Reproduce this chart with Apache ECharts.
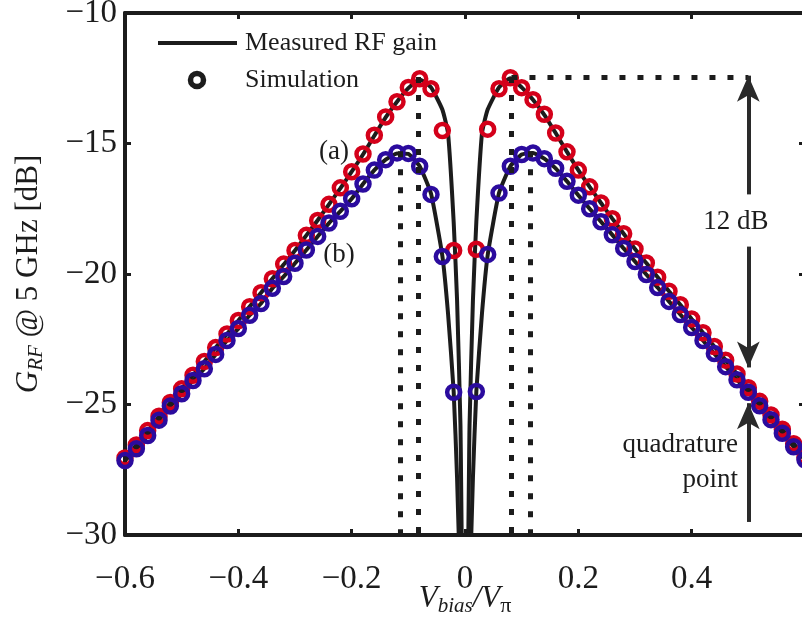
<!DOCTYPE html>
<html>
<head>
<meta charset="utf-8">
<script src="https://cdn.jsdelivr.net/npm/echarts@6/dist/echarts.min.js"></script>
<style>
  html, body { margin: 0; padding: 0; background: #ffffff; }
  #chart { width: 802px; height: 624px; }
</style>
</head>
<body>
<div id="chart"></div>
<script>
// Normalised bias points of the simulated curves (V_bias / V_pi)
const simBias = [
  -0.60, -0.58, -0.56, -0.54, -0.52, -0.50, -0.48, -0.46, -0.44, -0.42,
  -0.40, -0.38, -0.36, -0.34, -0.32, -0.30, -0.28, -0.26, -0.24, -0.22,
  -0.20, -0.18, -0.16, -0.14, -0.12, -0.10, -0.08, -0.06, -0.04, -0.02,
   0.02,  0.04,  0.06,  0.08,  0.10,  0.12,  0.14,  0.16,  0.18,  0.20,
   0.22,  0.24,  0.26,  0.28,  0.30,  0.32,  0.34,  0.36,  0.38,  0.40,
   0.42,  0.44,  0.46,  0.48,  0.50,  0.52,  0.54,  0.56,  0.58,  0.60
];
// Simulated RF gain [dB], case (a)
const simGainA = [
  -27.05, -26.55, -26.00, -25.45, -24.92, -24.40, -23.88, -23.35, -22.82, -22.30,
  -21.78, -21.25, -20.72, -20.18, -19.62, -19.10, -18.52, -17.95, -17.33, -16.70,
  -16.08, -15.40, -14.68, -13.98, -13.40, -12.85, -12.52, -12.90, -14.50, -19.10,
  -19.05, -14.45, -12.90, -12.48, -12.86, -13.32, -13.88, -14.60, -15.32, -16.02,
  -16.66, -17.28, -17.88, -18.46, -19.04, -19.58, -20.12, -20.66, -21.18, -21.72,
  -22.25, -22.78, -23.30, -23.83, -24.36, -24.88, -25.40, -25.95, -26.50, -27.02
];
// Simulated RF gain [dB], case (b)
const simGainB = [
  -27.15, -26.70, -26.19, -25.60, -25.06, -24.59, -24.08, -23.63, -23.08, -22.55,
  -22.09, -21.58, -21.13, -20.55, -20.10, -19.59, -19.08, -18.56, -18.05, -17.60,
  -17.12, -16.55, -16.02, -15.62, -15.36, -15.38, -15.87, -16.95, -19.33, -24.53,
  -24.50, -19.25, -16.90, -15.87, -15.42, -15.36, -15.58, -15.95, -16.45, -16.98,
  -17.50, -18.00, -18.50, -19.02, -19.52, -20.02, -20.52, -21.05, -21.55, -22.05,
  -22.55, -23.05, -23.55, -24.05, -24.53, -25.05, -25.58, -26.10, -26.62, -27.12
];

// Measured bias points (denser around the null)
const measBias = [
  -0.60, -0.58, -0.56, -0.54, -0.52, -0.50, -0.48, -0.46, -0.44, -0.42,
  -0.40, -0.38, -0.36, -0.34, -0.32, -0.30, -0.28, -0.26, -0.24, -0.22,
  -0.20, -0.18, -0.16, -0.14, -0.12, -0.10, -0.08, -0.06, -0.04, -0.03,
  -0.02, -0.014, -0.008, -0.003, 0.003, 0.008, 0.014, 0.02, 0.03, 0.04,
   0.06,  0.08,  0.10,  0.12,  0.14,  0.16,  0.18,  0.20,  0.22,  0.24,
   0.26,  0.28,  0.30,  0.32,  0.34,  0.36,  0.38,  0.40,  0.42,  0.44,
   0.46,  0.48,  0.50,  0.52,  0.54,  0.56,  0.58,  0.60
];
// Measured RF gain [dB], case (a)
const measGainA = [
  -27.08, -26.55, -26.02, -25.46, -24.93, -24.40, -23.88, -23.35, -22.82, -22.30,
  -21.78, -21.25, -20.72, -20.18, -19.64, -19.10, -18.52, -17.94, -17.33, -16.72,
  -16.08, -15.42, -14.70, -14.00, -13.40, -12.88, -12.55, -12.85, -13.70, -14.60,
  -18.00, -21.00, -25.80, -34.00, -34.00, -25.80, -21.00, -18.00, -14.60, -13.70,
  -12.85, -12.50, -12.85, -13.32, -13.90, -14.60, -15.32, -16.02, -16.66, -17.28,
  -17.88, -18.46, -19.04, -19.58, -20.12, -20.66, -21.18, -21.72, -22.25, -22.78,
  -23.30, -23.83, -24.36, -24.88, -25.40, -25.95, -26.50, -27.02
];
// Measured RF gain [dB], case (b)
const measGainB = [
  -27.15, -26.70, -26.19, -25.60, -25.06, -24.59, -24.08, -23.63, -23.08, -22.55,
  -22.09, -21.58, -21.13, -20.55, -20.10, -19.59, -19.08, -18.56, -18.05, -17.60,
  -17.12, -16.55, -16.02, -15.62, -15.38, -15.40, -15.87, -16.92, -19.30, -21.50,
  -24.50, -27.80, -32.50, -40.00, -40.00, -32.50, -27.80, -24.50, -21.50, -19.28,
  -16.90, -15.87, -15.42, -15.36, -15.58, -15.95, -16.45, -16.98, -17.50, -18.00,
  -18.50, -19.02, -19.52, -20.02, -20.52, -21.05, -21.55, -22.05, -22.55, -23.05,
  -23.55, -24.05, -24.53, -25.05, -25.58, -26.10, -26.62, -27.12
];

// Axis ticks
const xTicks = [-0.6, -0.4, -0.2, 0, 0.2, 0.4, 0.6];
const yTicks = [-30, -25, -20, -15, -10];

// Bias of the gain maxima for (a) and (b), gain maxima and quadrature point
const peakBiasA = 0.082;
const peakBiasB = 0.115;
const peakGainA = -12.45;
const peakGainB = -15.3;
const quadBias = 0.5;
const quadGain = -24.53;

const FONT = 'Liberation Serif, Times New Roman, serif';
const INK = '#1c1c1c';
const RED = '#d4001a';
const BLUE = '#2b0b9e';

const zip = (xs, ys) => xs.map((x, i) => [x, ys[i]]);
const minus = (s) => String(s).replace('-', '\u2212');

const chart = echarts.init(document.getElementById('chart'), null, { renderer: 'canvas' });

const axisCommon = {
  type: 'value',
  axisLine: { show: true, onZero: false, lineStyle: { color: INK, width: 4 } },
  axisTick: { show: true, inside: true, length: 6, lineStyle: { color: INK, width: 3 } },
  splitLine: { show: false }
};

const dotted = { color: INK, width: 5, type: [6, 12], cap: 'butt' };
const arrowLine = { color: '#2a2a2a', width: 4, type: 'solid' };

const ringSeries = (name, data, color, z) => ({
  name, type: 'scatter', data, z,
  symbol: 'circle', symbolSize: 13,
  itemStyle: { color: 'rgba(0,0,0,0)', borderColor: color, borderWidth: 4.5, opacity: 1 },
  emphasis: { disabled: true },
  silent: true
});

const option = {
  backgroundColor: '#ffffff',
  animation: false,
  grid: { left: 125, top: 13, width: 680, height: 522, containLabel: false, outerBoundsMode: 'none' },
  xAxis: [
    Object.assign({}, axisCommon, {
      position: 'bottom', min: xTicks[0], max: xTicks[xTicks.length - 1], interval: 0.2,
      axisLabel: {
        show: true, margin: 28, color: INK, fontFamily: FONT, fontSize: 33,
        formatter: (v) => (v > 0.55 ? '' : minus(Number(v.toFixed(1))))
      },
      name: '{v|V}{s|bias}{v|/V}{p|\u03c0}',
      nameLocation: 'middle', nameGap: 48, nameMoveOverlap: false,
      nameTextStyle: {
        verticalAlign: 'top',
        rich: {
          v: { fontFamily: FONT, fontStyle: 'italic', fontSize: 31, color: INK, lineHeight: 34, verticalAlign: 'top' },
          s: { fontFamily: FONT, fontStyle: 'italic', fontSize: 21, color: INK, lineHeight: 20, padding: [27, 0, 0, 0], verticalAlign: 'bottom' },
          p: { fontFamily: FONT, fontSize: 22, color: INK, lineHeight: 20, padding: [27, 0, 0, 0], verticalAlign: 'bottom' }
        }
      }
    }),
    Object.assign({}, axisCommon, {
      position: 'top', min: xTicks[0], max: xTicks[xTicks.length - 1], interval: 0.2,
      axisLabel: { show: false }
    })
  ],
  yAxis: [
    Object.assign({}, axisCommon, {
      position: 'left', min: yTicks[0], max: yTicks[yTicks.length - 1], interval: 5,
      axisLabel: { show: true, margin: 8, color: INK, fontFamily: FONT, fontSize: 33, formatter: (v) => minus(v) },
      name: '{g|G}{s|RF}{t| @ 5 GHz [dB]}',
      nameLocation: 'middle', nameRotate: 90, nameGap: 78,
      nameTextStyle: {
        rich: {
          g: { fontFamily: FONT, fontStyle: 'italic', fontSize: 31, color: INK, lineHeight: 34, verticalAlign: 'top' },
          s: { fontFamily: FONT, fontStyle: 'italic', fontSize: 21, color: INK, lineHeight: 20, padding: [20, 0, 0, 0], verticalAlign: 'bottom' },
          t: { fontFamily: FONT, fontSize: 31, color: INK, lineHeight: 34, verticalAlign: 'top' }
        }
      }
    }),
    Object.assign({}, axisCommon, {
      position: 'right', min: yTicks[0], max: yTicks[yTicks.length - 1], interval: 5,
      axisLabel: { show: false }
    })
  ],
  series: [
    // reference lines: dotted markers at the gain maxima
    {
      type: 'line', data: [], silent: true, z: 1,
      markLine: {
        silent: true, animation: false, symbol: ['none', 'none'],
        label: { show: false },
        lineStyle: dotted,
        data: [
          [{ coord: [-peakBiasA, peakGainA] }, { coord: [-peakBiasA, yTicks[0]] }],
          [{ coord: [-peakBiasB, peakGainB] }, { coord: [-peakBiasB, yTicks[0]] }],
          [{ coord: [peakBiasA, peakGainA] }, { coord: [peakBiasA, yTicks[0]] }],
          [{ coord: [peakBiasB, peakGainB] }, { coord: [peakBiasB, yTicks[0]] }],
          [{ coord: [peakBiasA, peakGainA] }, { coord: [quadBias, peakGainA] }]
        ]
      }
    },
    // 12 dB and quadrature-point arrows
    {
      type: 'line', data: [], silent: true, z: 6,
      markLine: {
        silent: true, animation: false,
        symbol: ['none', 'arrow'], symbolSize: [17, 26], symbolOffset: 0,
        label: { show: false },
        lineStyle: arrowLine,
        data: [
          [{ coord: [quadBias, -16.95] }, { coord: [quadBias, peakGainA + 0.05] }],
          [{ coord: [quadBias, -18.95] }, { coord: [quadBias, quadGain + 0.95] }],
          [{ coord: [quadBias, -29.5] }, { coord: [quadBias, quadGain - 0.42] }]
        ]
      }
    },
    {
      name: 'Measured RF gain (a)', type: 'line', data: zip(measBias, measGainA),
      showSymbol: false, smooth: 0.15, clip: true, z: 2, silent: true,
      lineStyle: { color: INK, width: 4 }
    },
    {
      name: 'Measured RF gain (b)', type: 'line', data: zip(measBias, measGainB),
      showSymbol: false, smooth: 0.15, clip: true, z: 2, silent: true,
      lineStyle: { color: INK, width: 4 }
    },
    ringSeries('Simulation (a)', zip(simBias, simGainA), RED, 3),
    ringSeries('Simulation (b)', zip(simBias, simGainB), BLUE, 4)
  ],
  graphic: [
    // legend
    { type: 'line', silent: true, shape: { x1: 158, y1: 43, x2: 237, y2: 43 }, style: { stroke: INK, lineWidth: 4 } },
    { type: 'circle', silent: true, shape: { cx: 197, cy: 80, r: 6.5 }, style: { fill: 'none', stroke: INK, lineWidth: 5.5 } },
    { type: 'text', silent: true, x: 245, y: 43, style: { text: 'Measured RF gain', font: '26px ' + FONT, fill: INK, align: 'left', verticalAlign: 'middle' } },
    { type: 'text', silent: true, x: 245, y: 80, style: { text: 'Simulation', font: '26px ' + FONT, fill: INK, align: 'left', verticalAlign: 'middle' } },
    // curve tags
    { type: 'text', silent: true, x: 334, y: 152, style: { text: '(a)', font: '27px ' + FONT, fill: INK, align: 'center', verticalAlign: 'middle' } },
    { type: 'text', silent: true, x: 339, y: 255, style: { text: '(b)', font: '27px ' + FONT, fill: INK, align: 'center', verticalAlign: 'middle' } },
    // annotations
    { type: 'text', silent: true, x: 736, y: 222, style: { text: '12 dB', font: '27px ' + FONT, fill: INK, align: 'center', verticalAlign: 'middle' } },
    { type: 'text', silent: true, x: 738, y: 445, style: { text: 'quadrature', font: '27px ' + FONT, fill: INK, align: 'right', verticalAlign: 'middle' } },
    { type: 'text', silent: true, x: 738, y: 480, style: { text: 'point', font: '27px ' + FONT, fill: INK, align: 'right', verticalAlign: 'middle' } }
  ]
};

chart.setOption(option);
</script>
</body>
</html>
